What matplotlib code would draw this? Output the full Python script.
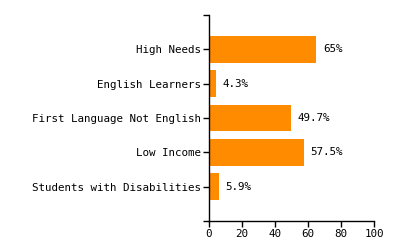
import matplotlib
matplotlib.use("Agg")
import matplotlib.pyplot as plt
import numpy as np

categories = ["High Needs", "English Learners", "First Language Not English",
              "Low Income", "Students with Disabilities"]
values = [65, 4.3, 49.7, 57.5, 5.9]
labels = ["65%", "4.3%", "49.7%", "57.5%", "5.9%"]
xticks = [0, 20, 40, 60, 80, 100]

plt.rcParams['font.family'] = ['DejaVu Sans Mono']

fig = plt.figure(figsize=(4, 2.5), dpi=100)
ax = fig.add_axes([209/400, 29/250, 165/400, 206/250])

pos = np.arange(len(categories))
ax.barh(pos, values, height=0.78, color="#ff8c00")
for p, v, l in zip(pos, values, labels):
    ax.text(v + 4, p, l, va="center", ha="left", fontsize=7.8, color="black")

ax.set_xlim(0, 100)
ax.set_ylim(5, -1)
ax.set_xticks(xticks)
ax.set_yticks(pos)
ax.set_yticklabels(categories)
ax.set_yticks([-1, 5], minor=True)
ax.tick_params(axis="both", which="both", length=4, width=1, labelsize=7.8,
               colors="black", pad=2)
for s in ["top", "right"]:
    ax.spines[s].set_visible(False)
for s in ["left", "bottom"]:
    ax.spines[s].set_linewidth(1)

fig.savefig("out.png", dpi=100)
